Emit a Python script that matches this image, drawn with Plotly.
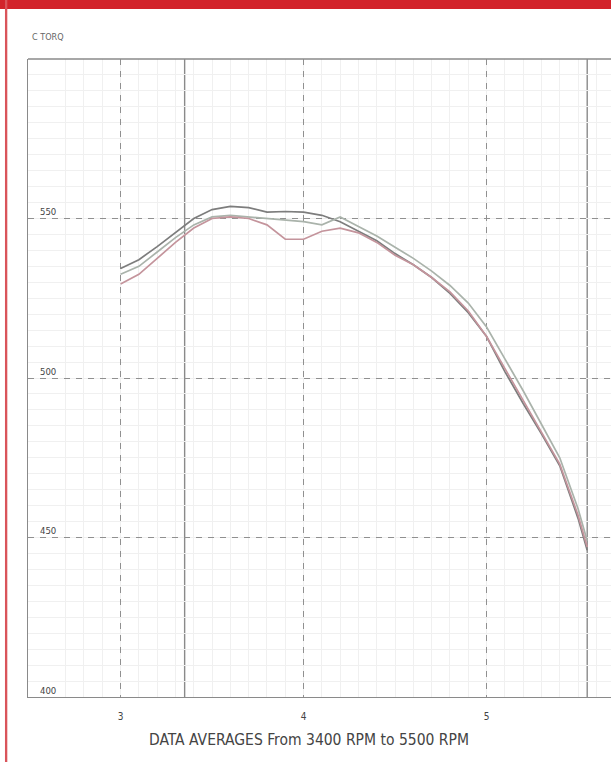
import plotly.graph_objects as go

# ---- data (RPM in thousands, torque) ----
rpm = [3.0, 3.1, 3.2, 3.3, 3.4, 3.5, 3.6, 3.7, 3.8, 3.9, 4.0, 4.1, 4.2, 4.3,
       4.4, 4.5, 4.6, 4.7, 4.8, 4.9, 5.0, 5.1, 5.2, 5.3, 5.4, 5.5, 5.55]
torque_a = [534.3, 537.1, 541.2, 545.6, 550.0, 552.8, 553.8, 553.4, 552.0, 552.2,
            552.0, 551.0, 549.0, 546.0, 543.0, 539.0, 535.5, 531.5, 526.5, 520.5,
            513.0, 502.0, 492.0, 482.5, 472.5, 456.0, 446.0]
torque_b = [532.5, 535.0, 539.5, 544.0, 548.0, 550.5, 551.0, 550.5, 550.0, 549.5,
            549.0, 548.0, 550.5, 547.5, 544.5, 541.0, 537.5, 533.5, 529.0, 523.5,
            516.0, 506.0, 496.0, 485.5, 475.0, 459.0, 449.0]
torque_c = [529.5, 532.5, 537.5, 542.5, 547.0, 550.0, 550.5, 550.0, 548.0, 543.5,
            543.5, 546.0, 547.0, 545.5, 542.5, 538.5, 535.5, 531.5, 527.0, 521.0,
            513.0, 503.0, 493.0, 483.0, 473.0, 457.0, 447.0]
series_names = ["Run A", "Run B", "Run C"]
series_colors = ["#7d7d7d", "#aab3ab", "#c4949c"]

x_ticks = [3, 4, 5]
x_tick_labels = ["3", "4", "5"]
y_ticks = [400, 450, 500, 550]
y_tick_labels = ["400", "450", "500", "550"]
range_markers = [3.35, 5.55]

title_text = "DATA AVERAGES From 3400 RPM to 5500 RPM"
y_label = "C TORQ"

FONT = "DejaVu Sans Condensed, Liberation Sans Narrow, DejaVu Sans, sans-serif"

fig = go.Figure()
for name, ys, col in zip(series_names, [torque_a, torque_b, torque_c], series_colors):
    fig.add_trace(go.Scatter(x=rpm, y=ys, mode="lines", name=name,
                             line=dict(color=col, width=1.7), showlegend=False))

# solid vertical markers
for xv in range_markers:
    fig.add_shape(type="line", xref="x", yref="paper", x0=xv, x1=xv, y0=0, y1=1,
                  line=dict(color="#8a8a8a", width=1.4), layer="below")

# top frame line
fig.add_shape(type="line", xref="paper", yref="paper", x0=0, x1=1, y0=1, y1=1,
              line=dict(color="#8a8a8a", width=1.4))

# red page border
fig.add_shape(type="rect", xref="paper", yref="paper", x0=-0.06, x1=1.02,
              y0=1.0785, y1=1.1, line=dict(width=0), fillcolor="#d2232b")
fig.add_shape(type="rect", xref="paper", yref="paper", x0=-0.0395, x1=-0.0355,
              y0=-0.2, y1=1.1, line=dict(width=0), fillcolor="#d9545a")

fig.add_annotation(text=y_label, xref="paper", yref="paper", x=0.004, y=1.0345,
                   xanchor="left", yanchor="middle", showarrow=False,
                   font=dict(family=FONT, size=9, color="#666666"))
fig.add_annotation(text=title_text, xref="paper", yref="paper", x=0.482, y=-0.067,
                   xanchor="center", yanchor="middle", showarrow=False,
                   font=dict(family=FONT, size=15.5, color="#444444"))

fig.update_layout(
    width=611, height=762,
    margin=dict(l=28, r=0, t=59, b=65),
    paper_bgcolor="white", plot_bgcolor="white",
    font=dict(family=FONT, color="#555555"),
    xaxis=dict(range=[2.494, 5.680], tickvals=x_ticks, ticktext=x_tick_labels,
               showgrid=True, gridcolor="#909090", gridwidth=1.3, griddash="6px,6px",
               minor=dict(dtick=0.1, tick0=0, showgrid=True, gridcolor="#f0f0f0",
                          gridwidth=1, griddash="solid"),
               showline=True, linecolor="#8a8a8a", linewidth=1.4, zeroline=False,
               ticks="", ticklabelstandoff=10, tickfont=dict(size=10, color="#444444")),
    yaxis=dict(range=[400, 600], tickvals=y_ticks, ticktext=y_tick_labels,
               showgrid=True, gridcolor="#909090", gridwidth=1.3, griddash="6px,6px",
               minor=dict(dtick=5, tick0=0, showgrid=True, gridcolor="#f0f0f0",
                          gridwidth=1, griddash="solid"),
               showline=True, linecolor="#8a8a8a", linewidth=1.4, zeroline=False,
               ticks="", ticklabelposition="inside top", ticklabelstandoff=10,
               tickfont=dict(size=9.5, color="#444444")),
)

fig.write_html("out.html", config={"displayModeBar": False},
               post_script="document.body.style.margin='0';")
